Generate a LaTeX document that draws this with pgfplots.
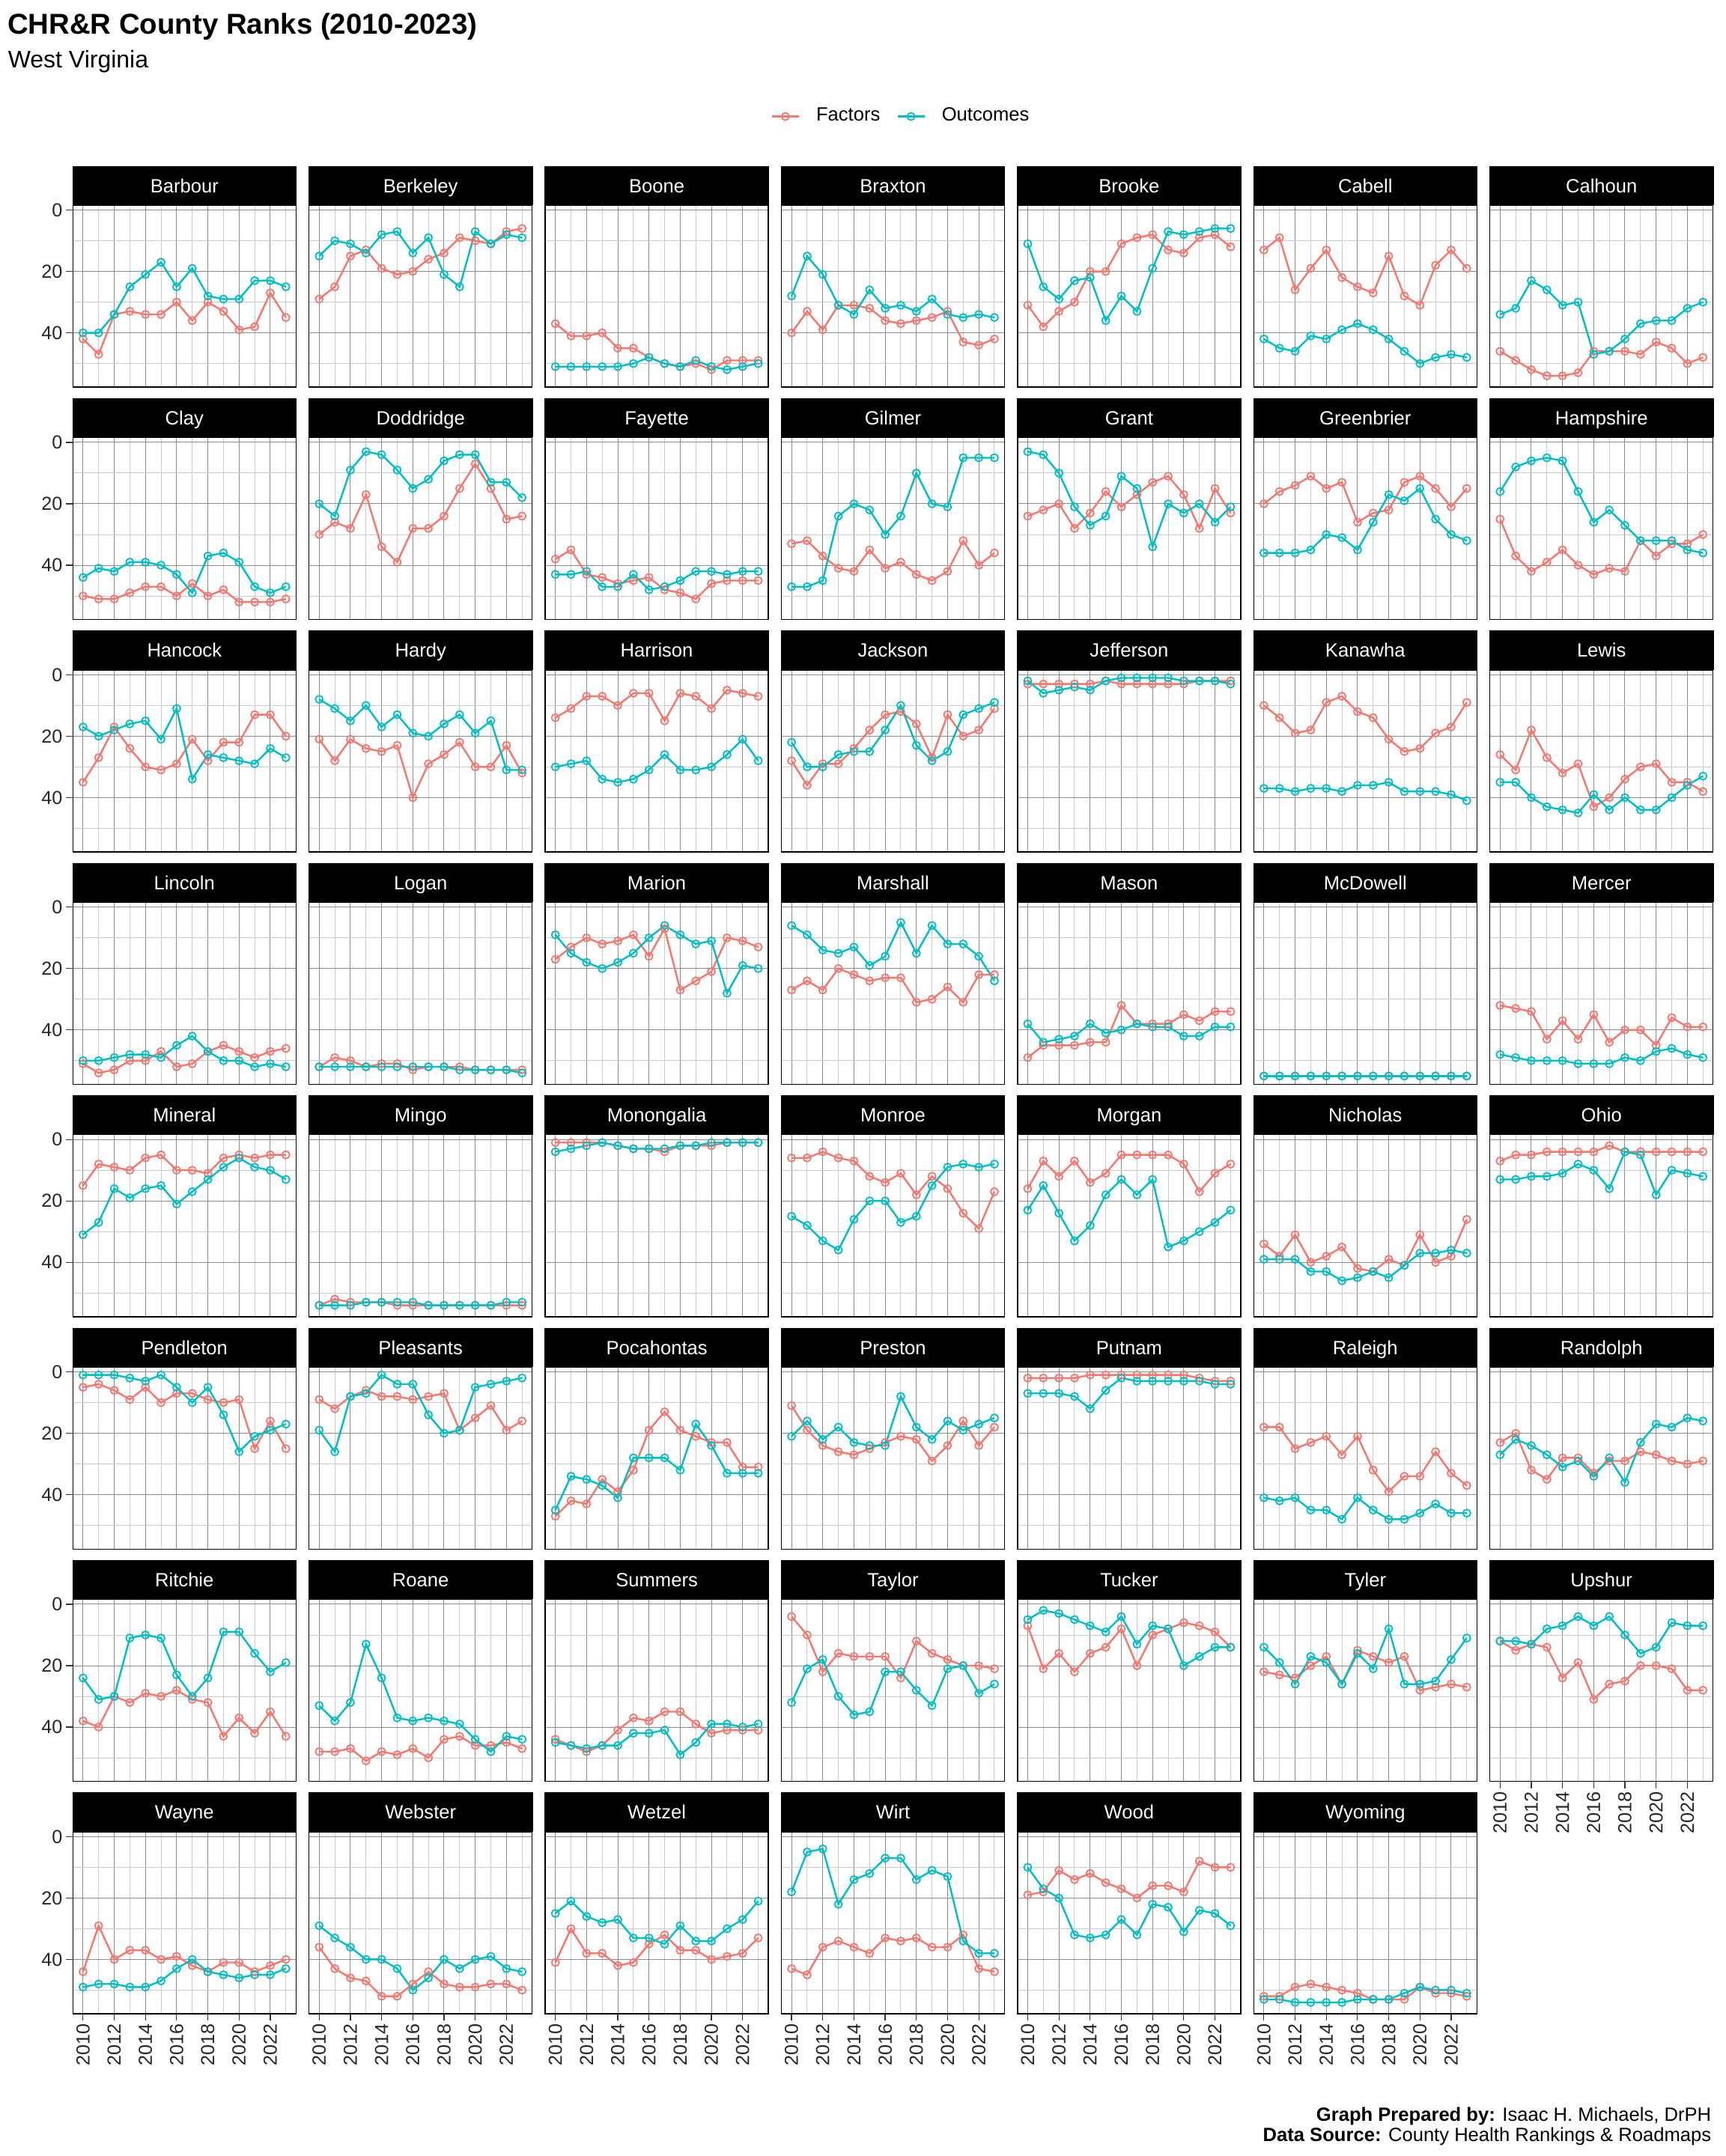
\documentclass[border=0pt]{standalone}
\usepackage{fontspec}
\setmainfont{Liberation Sans}
\usepackage{pgfplots}
\usepackage{pgfplotstable}
\pgfplotsset{compat=1.18}
\definecolor{facc}{HTML}{F8766D}
\definecolor{outc}{HTML}{00BFC4}

\pgfplotstableread{
name 2010 2011 2012 2013 2014 2015 2016 2017 2018 2019 2020 2021 2022 2023
BarbourF 42 47 34 33 34 34 30 36 30 33 39 38 27 35
BarbourO 40 40 34 25 21 17 25 19 28 29 29 23 23 25
BerkeleyF 29 25 15 13 19 21 20 16 14 9 10 11 7 6
BerkeleyO 15 10 11 14 8 7 14 9 21 25 7 11 8 9
BooneF 37 41 41 40 45 45 48 50 51 50 52 49 49 49
BooneO 51 51 51 51 51 50 48 50 51 49 51 52 51 50
BraxtonF 40 33 39 31 31 32 36 37 36 35 33 43 44 42
BraxtonO 28 15 21 31 34 26 32 31 33 29 34 35 34 35
BrookeF 31 38 33 30 20 20 11 9 8 13 14 9 8 12
BrookeO 11 25 29 23 22 36 28 33 19 7 8 7 6 6
CabellF 13 9 26 19 13 22 25 27 15 28 31 18 13 19
CabellO 42 45 46 41 42 39 37 39 42 46 50 48 47 48
CalhounF 46 49 52 54 54 53 46 46 46 47 43 45 50 48
CalhounO 34 32 23 26 31 30 47 46 42 37 36 36 32 30
ClayF 50 51 51 49 47 47 50 46 50 48 52 52 52 51
ClayO 44 41 42 39 39 40 43 49 37 36 39 47 49 47
DoddridgeF 30 26 28 17 34 39 28 28 24 15 7 15 25 24
DoddridgeO 20 24 9 3 4 9 15 12 6 4 4 13 13 18
FayetteF 38 35 43 44 46 45 44 48 49 51 46 45 45 45
FayetteO 43 43 42 47 47 43 48 47 45 42 42 43 42 42
GilmerF 33 32 37 41 42 35 41 39 43 45 42 32 40 36
GilmerO 47 47 45 24 20 22 30 24 10 20 21 5 5 5
GrantF 24 22 20 28 23 16 21 17 13 11 17 28 15 23
GrantO 3 4 10 21 27 24 11 15 34 20 23 20 26 21
GreenbrierF 20 16 14 11 15 13 26 23 22 13 11 15 21 15
GreenbrierO 36 36 36 35 30 31 35 26 17 19 15 25 30 32
HampshireF 25 37 42 39 35 40 43 41 42 32 37 33 33 30
HampshireO 16 8 6 5 6 16 26 22 27 32 32 32 35 36
HancockF 35 27 17 24 30 31 29 21 28 22 22 13 13 20
HancockO 17 20 18 16 15 21 11 34 26 27 28 29 24 27
HardyF 21 28 21 24 25 23 40 29 26 22 30 30 23 32
HardyO 8 11 15 10 17 13 19 20 16 13 19 15 31 31
HarrisonF 14 11 7 7 10 6 6 15 6 7 11 5 6 7
HarrisonO 30 29 28 34 35 34 31 26 31 31 30 26 21 28
JacksonF 28 36 29 29 24 18 13 12 16 27 13 20 18 11
JacksonO 22 30 30 26 25 25 18 10 23 28 25 13 11 9
JeffersonF 3 3 3 3 3 2 3 3 3 3 3 2 2 2
JeffersonO 2 6 5 4 5 2 1 1 1 1 2 2 2 3
KanawhaF 10 14 19 18 9 7 12 14 21 25 24 19 17 9
KanawhaO 37 37 38 37 37 38 36 36 35 38 38 38 39 41
LewisF 26 31 18 27 32 29 43 40 34 30 29 35 35 38
LewisO 35 35 40 43 44 45 39 44 40 44 44 40 36 33
LincolnF 51 54 53 50 50 47 52 51 47 45 47 49 47 46
LincolnO 50 50 49 48 48 49 45 42 47 50 50 52 51 52
LoganF 52 49 50 52 51 51 53 52 52 52 53 53 53 53
LoganO 52 52 52 52 52 52 52 52 52 53 53 53 53 54
MarionF 17 13 10 12 11 9 16 7 27 24 21 10 11 13
MarionO 9 15 18 20 18 15 10 6 9 12 11 28 19 20
MarshallF 27 24 27 20 22 24 23 23 31 30 26 31 22 22
MarshallO 6 9 14 15 13 19 16 5 15 6 12 12 16 24
MasonF 49 45 45 45 44 44 32 38 38 38 35 37 34 34
MasonO 38 44 43 42 38 41 40 38 39 39 42 42 39 39
McDowellF 55 55 55 55 55 55 55 55 55 55 55 55 55 55
McDowellO 55 55 55 55 55 55 55 55 55 55 55 55 55 55
MercerF 32 33 34 43 37 43 35 44 40 40 45 36 39 39
MercerO 48 49 50 50 50 51 51 51 49 50 47 46 48 49
MineralF 15 8 9 10 6 5 10 10 11 6 5 6 5 5
MineralO 31 27 16 19 16 15 21 17 13 9 6 9 10 13
MingoF 54 52 53 53 53 54 54 54 54 54 54 54 54 54
MingoO 54 54 54 53 53 53 53 54 54 54 54 54 53 53
MonongaliaF 1 1 1 1 2 3 3 4 2 2 2 1 1 1
MonongaliaO 4 3 2 1 2 3 3 3 2 2 1 1 1 1
MonroeF 6 6 4 6 7 12 14 11 18 12 16 24 29 17
MonroeO 25 28 33 36 26 20 20 27 25 15 9 8 9 8
MorganF 16 7 12 7 14 11 5 5 5 5 8 17 11 8
MorganO 23 15 24 33 28 18 13 18 13 35 33 30 27 23
NicholasF 34 38 31 40 38 35 42 43 39 41 31 40 38 26
NicholasO 39 39 39 43 43 46 45 43 45 41 37 37 36 37
OhioF 7 5 5 4 4 4 4 2 4 4 4 4 4 4
OhioO 13 13 12 12 11 8 10 16 4 5 18 10 11 12
PendletonF 5 4 6 9 5 10 7 7 9 10 9 25 16 25
PendletonO 1 1 1 2 3 1 5 10 5 14 26 21 19 17
PleasantsF 9 12 8 6 8 8 9 8 7 19 15 11 19 16
PleasantsO 19 26 8 7 1 4 4 14 20 19 5 4 3 2
PocahontasF 47 42 43 35 39 32 19 13 19 21 23 23 31 31
PocahontasO 45 34 35 37 41 28 28 28 32 17 24 33 33 33
PrestonF 11 19 24 26 27 25 23 21 22 29 24 16 24 18
PrestonO 21 16 22 18 23 24 24 8 18 22 16 19 17 15
PutnamF 2 2 2 2 1 1 1 1 1 1 1 2 3 3
PutnamO 7 7 7 8 12 6 2 3 3 3 3 3 4 4
RaleighF 18 18 25 23 21 27 21 32 39 34 34 26 33 37
RaleighO 41 42 41 45 45 48 41 45 48 48 46 43 46 46
RandolphF 23 20 32 35 28 28 33 29 29 26 27 29 30 29
RandolphO 27 22 24 27 31 29 34 28 36 23 17 18 15 16
RitchieF 38 40 30 32 29 30 28 31 32 43 37 42 35 43
RitchieO 24 31 30 11 10 11 23 30 24 9 9 16 22 19
RoaneF 48 48 47 51 48 49 47 50 44 43 46 46 45 47
RoaneO 33 38 32 13 24 37 38 37 38 39 44 48 43 44
SummersF 44 46 48 46 41 37 38 35 35 39 42 41 41 41
SummersO 45 46 47 46 46 42 42 41 49 45 39 39 40 39
TaylorF 4 10 22 16 17 17 17 24 12 16 18 20 20 21
TaylorO 32 21 18 30 36 35 22 22 28 33 21 20 29 26
TuckerF 7 21 16 22 16 14 8 20 10 8 6 7 9 14
TuckerO 5 2 3 5 7 9 4 13 7 8 20 17 14 14
TylerF 22 23 24 20 17 26 15 17 19 17 28 27 26 27
TylerO 14 19 26 17 19 26 16 21 8 26 26 25 18 11
UpshurF 12 15 13 14 24 19 31 26 25 20 20 21 28 28
UpshurO 12 12 13 8 7 4 7 4 10 16 14 6 7 7
WayneF 44 29 40 37 37 40 39 42 44 41 41 44 42 40
WayneO 49 48 48 49 49 47 43 40 44 45 46 45 45 43
WebsterF 36 43 46 47 52 52 48 44 48 49 49 48 48 50
WebsterO 29 33 36 40 40 43 50 46 40 43 40 39 43 44
WetzelF 41 30 38 38 42 41 35 32 37 37 40 39 38 33
WetzelO 25 21 26 28 27 33 33 35 29 34 34 30 27 21
WirtF 43 45 36 34 36 38 33 34 33 36 36 32 43 44
WirtO 18 5 4 22 14 12 7 7 14 11 13 34 38 38
WoodF 19 18 11 14 12 15 17 20 16 16 18 8 10 10
WoodO 10 17 20 32 33 32 27 32 22 23 31 24 25 29
WyomingF 52 52 49 48 49 50 51 53 53 53 49 51 51 52
WyomingO 53 53 54 54 54 54 53 53 53 51 49 50 50 51
}\raw
\pgfplotstabletranspose[colnames from=name]\data{\raw}

\pgfplotsset{
  fac/.style={color=facc, line width=0.6pt, mark=o, mark size=1.25pt, mark options={line width=0.45pt, solid}},
  out/.style={color=outc, line width=0.6pt, mark=o, mark size=1.25pt, mark options={line width=0.45pt, solid}},
  panel/.style={
    scale only axis, width=74.5pt, height=60.8pt, anchor=north west,
    xmin=2009.35, xmax=2023.65, ymin=-1.6, ymax=57.7, y dir=reverse,
    xtick={2010,2012,...,2022}, minor xtick={2011,2013,...,2023},
    ytick={0,20,40}, minor ytick={10,30,50},
    xtick pos=lower, ytick pos=left,
    grid=both,
    major grid style={black!45, line width=0.25pt},
    minor grid style={black!20, line width=0.25pt},
    axis line style={black, line width=0.35pt},
    tick align=outside, major tick length=2.25pt, minor tick length=0pt,
    xticklabels={}, yticklabels={},
    xtick style={draw=none}, ytick style={draw=none},
    ticklabel style={font=\fontsize{6.3}{7.5}\selectfont, text=black!85},
    xticklabel style={rotate=90, anchor=east, inner sep=1pt},
    yticklabel style={anchor=east, inner sep=1pt},
    every axis title/.style={at={(0.5,1)}, anchor=south, fill=black, draw=black, text=white,
      font=\fontsize{6.4}{7.7}\selectfont, minimum width=74.5pt, minimum height=12.7pt,
      inner sep=0pt, text height=4.6pt, text depth=0pt},
  },
  leftax/.style={yticklabels={0,20,40}, ytick style={draw=black!80, line width=0.3pt}},
  botax/.style={xticklabels={2010,2012,2014,2016,2018,2020,2022}, xtick style={draw=black!80, line width=0.3pt}},
}

\newcommand\panel[4]{%
  \begin{axis}[panel, at={(24.325pt+#1*78.85pt,-68.5pt-#2*77.6pt)}, title={#3}, #4]
    \addplot[fac] table[x=colnames, y=#3F]{\data};
    \addplot[out] table[x=colnames, y=#3O]{\data};
  \end{axis}}

\begin{document}
\begin{tikzpicture}
\useasboundingbox (0pt,0pt) rectangle (576pt,-720pt);
\node[anchor=base west, inner sep=0pt, font=\bfseries\fontsize{9.6}{11.5}\selectfont] at (2.3pt,-11.25pt) {CHR\&R County Ranks (2010-2023)};
\node[anchor=base west, inner sep=0pt, font=\fontsize{8}{9.6}\selectfont] at (2.5pt,-22.7pt) {West Virginia};

\panel{0}{0}{Barbour}{leftax}
\panel{1}{0}{Berkeley}{}
\panel{2}{0}{Boone}{}
\panel{3}{0}{Braxton}{}
\panel{4}{0}{Brooke}{}
\panel{5}{0}{Cabell}{}
\panel{6}{0}{Calhoun}{}

\panel{0}{1}{Clay}{leftax}
\panel{1}{1}{Doddridge}{}
\panel{2}{1}{Fayette}{}
\panel{3}{1}{Gilmer}{}
\panel{4}{1}{Grant}{}
\panel{5}{1}{Greenbrier}{}
\panel{6}{1}{Hampshire}{}

\panel{0}{2}{Hancock}{leftax}
\panel{1}{2}{Hardy}{}
\panel{2}{2}{Harrison}{}
\panel{3}{2}{Jackson}{}
\panel{4}{2}{Jefferson}{}
\panel{5}{2}{Kanawha}{}
\panel{6}{2}{Lewis}{}

\panel{0}{3}{Lincoln}{leftax}
\panel{1}{3}{Logan}{}
\panel{2}{3}{Marion}{}
\panel{3}{3}{Marshall}{}
\panel{4}{3}{Mason}{}
\panel{5}{3}{McDowell}{}
\panel{6}{3}{Mercer}{}

\panel{0}{4}{Mineral}{leftax}
\panel{1}{4}{Mingo}{}
\panel{2}{4}{Monongalia}{}
\panel{3}{4}{Monroe}{}
\panel{4}{4}{Morgan}{}
\panel{5}{4}{Nicholas}{}
\panel{6}{4}{Ohio}{}

\panel{0}{5}{Pendleton}{leftax}
\panel{1}{5}{Pleasants}{}
\panel{2}{5}{Pocahontas}{}
\panel{3}{5}{Preston}{}
\panel{4}{5}{Putnam}{}
\panel{5}{5}{Raleigh}{}
\panel{6}{5}{Randolph}{}

\panel{0}{6}{Ritchie}{leftax}
\panel{1}{6}{Roane}{}
\panel{2}{6}{Summers}{}
\panel{3}{6}{Taylor}{}
\panel{4}{6}{Tucker}{}
\panel{5}{6}{Tyler}{}
\panel{6}{6}{Upshur}{botax}

\panel{0}{7}{Wayne}{leftax,botax}
\panel{1}{7}{Webster}{botax}
\panel{2}{7}{Wetzel}{botax}
\panel{3}{7}{Wirt}{botax}
\panel{4}{7}{Wood}{botax}
\panel{5}{7}{Wyoming}{botax}

\begin{axis}[hide axis, scale only axis, width=20pt, height=10pt, anchor=center, at={(300.5pt,-38.9pt)},
  xmin=0, xmax=1, ymin=0, ymax=1,
  legend columns=2,
  legend style={at={(0.5,0.5)}, anchor=center, draw=none, fill=none,
    font=\fontsize{6.4}{7.7}\selectfont, inner sep=0pt, column sep=5.5pt, nodes={inner sep=0pt}},
  legend image code/.code={\draw[mark repeat=2, mark phase=2, #1] plot coordinates {(0pt,0pt) (4.5pt,0pt) (9pt,0pt)};}]
  \addlegendimage{fac}\addlegendentry{Factors}
  \addlegendimage{out}\addlegendentry{Outcomes}
\end{axis}

\node[anchor=base east, inner sep=0pt, font=\fontsize{6.4}{7.7}\selectfont] at (571.5pt,-708.3pt) {\textbf{Graph Prepared by:} Isaac H. Michaels, DrPH};
\node[anchor=base east, inner sep=0pt, font=\fontsize{6.4}{7.7}\selectfont] at (571.5pt,-715.1pt) {\textbf{Data Source:} County Health Rankings \& Roadmaps};
\end{tikzpicture}
\end{document}
